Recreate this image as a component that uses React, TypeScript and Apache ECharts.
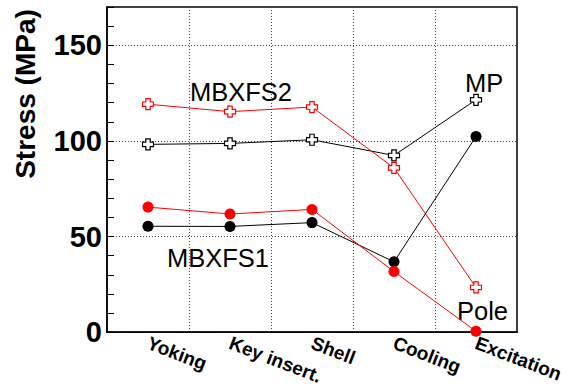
import React, { useEffect, useRef } from "react";
import * as echarts from "echarts";

const categories = ["Yoking", "Key insert.", "Shell", "Cooling", "Excitation"];
const mbxfs2MP = [98.2, 98.7, 100.6, 92.4, 121.5];
const mbxfs2Pole = [119.2, 115.3, 117.7, 85.9, 23.4];
const mbxfs1MP = [55.4, 55.3, 57.3, 36.8, 102.3];
const mbxfs1Pole = [65.4, 61.8, 64.2, 31.7, 0.5];
const yTicks = [0, 50, 100, 150];

const FONT = "'Liberation Sans', Arial, Helvetica, sans-serif";
const CROSS = "path://M3,0 H7 V3 H10 V7 H7 V10 H3 V7 H0 V3 H3 Z";

export default function App() {
  const ref = useRef<HTMLDivElement>(null);
  useEffect(() => {
    if (!ref.current) return;
    const chart = echarts.init(ref.current, null, { renderer: "svg" });
    const crossSeries = (name: string, data: number[], color: string) => ({
      name,
      type: "line",
      data,
      yAxisIndex: 0,
      symbol: CROSS,
      symbolSize: 11,
      lineStyle: { color, width: 1 },
      itemStyle: { color: "#fff", borderColor: color, borderWidth: 1.2 },
      z: 3,
    });
    const dotSeries = (name: string, data: number[], color: string) => ({
      name,
      type: "line",
      data,
      yAxisIndex: 0,
      symbol: "circle",
      symbolSize: 11,
      lineStyle: { color, width: 1 },
      itemStyle: { color, borderWidth: 0 },
      z: 3,
    });
    chart.setOption({
      animation: false,
      backgroundColor: "#fff",
      grid: {
        left: 107,
        top: 7,
        width: 410,
        height: 328,
        show: true,
        borderColor: "#000",
        borderWidth: 1.5,
        backgroundColor: "transparent",
      },
      xAxis: {
        type: "category",
        data: categories,
        boundaryGap: true,
        axisLine: { lineStyle: { color: "#000", width: 1.5 } },
        axisTick: { inside: true, length: 8, lineStyle: { color: "#000", width: 1 } },
        splitLine: { show: true, lineStyle: { color: "#444", type: [1, 2], width: 1 } },
        axisLabel: {
          rotate: -21,
          margin: 10,
          fontSize: 19,
          fontWeight: "bold",
          fontFamily: FONT,
          color: "#000",
          interval: 0,
        },
      },
      yAxis: [
        {
          type: "value",
          min: 0,
          max: 170,
          interval: 50,
          axisLine: { show: true, lineStyle: { color: "#000", width: 1.5 } },
          axisTick: { inside: true, length: 12, lineStyle: { color: "#000", width: 1 } },
          splitLine: { show: true, lineStyle: { color: "#444", type: [1, 2], width: 1 } },
          axisLabel: {
            margin: 5,
            fontSize: 29,
            fontWeight: "bold",
            fontFamily: FONT,
            color: "#000",
            formatter: (v: number) => (yTicks.includes(v) ? String(v) : ""),
          },
        },
        {
          type: "value",
          position: "left",
          min: 0,
          max: 170,
          interval: 10,
          axisLine: { show: false },
          axisTick: { show: true, inside: true, length: 7, lineStyle: { color: "#000", width: 1 } },
          splitLine: { show: false },
          axisLabel: { show: false },
        },
      ],
      series: [
        crossSeries("MBXFS2 MP", mbxfs2MP, "#000"),
        crossSeries("MBXFS2 Pole", mbxfs2Pole, "#ff0000"),
        dotSeries("MBXFS1 MP", mbxfs1MP, "#000"),
        dotSeries("MBXFS1 Pole", mbxfs1Pole, "#ff0000"),
      ],
      graphic: [
        {
          type: "text",
          x: 25,
          y: 94,
          rotation: Math.PI / 2,
          style: {
            text: "Stress (MPa)",
            font: `bold 28px ${FONT}`,
            fill: "#000",
            align: "center",
            verticalAlign: "middle",
          },
        },
        { type: "text", x: 190, y: 79, style: { text: "MBXFS2", font: `25.5px ${FONT}`, fill: "#000", verticalAlign: "top" } },
        { type: "text", x: 167, y: 245, style: { text: "MBXFS1", font: `25.5px ${FONT}`, fill: "#000", verticalAlign: "top" } },
        { type: "text", x: 465, y: 70, style: { text: "MP", font: `25.5px ${FONT}`, fill: "#000", verticalAlign: "top" } },
        { type: "text", x: 457, y: 298, style: { text: "Pole", font: `25.5px ${FONT}`, fill: "#000", verticalAlign: "top" } },
      ],
    });
    return () => chart.dispose();
  }, []);
  return <div ref={ref} style={{ position: "absolute", left: 0, top: 0, width: 567, height: 387 }} />;
}
